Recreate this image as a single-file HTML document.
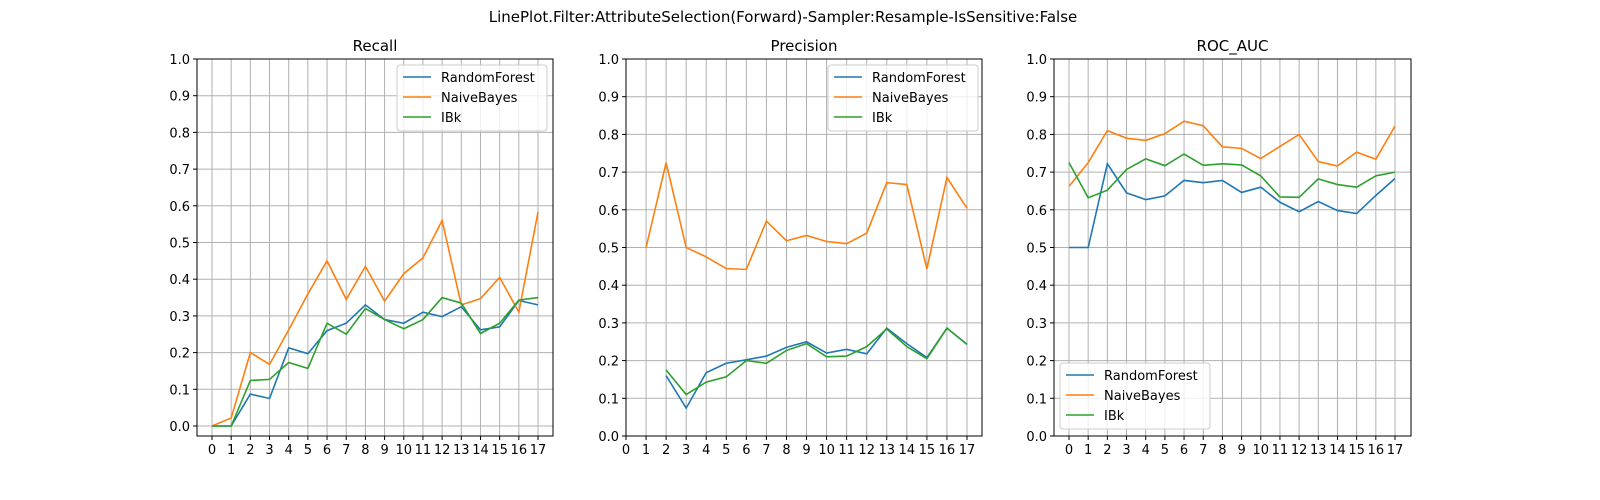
<!DOCTYPE html>
<html><head><meta charset="utf-8"><style>
html,body{margin:0;padding:0;background:#fff;overflow:hidden;width:1600px;height:500px;font-family:"Liberation Sans","DejaVu Sans",sans-serif}
svg{display:block}
svg text{font-family:"DejaVu Sans","Liberation Sans",sans-serif}
</style></head><body>
<svg id="c" width="1600" height="500" xmlns="http://www.w3.org/2000/svg">
<rect width="1600" height="500" fill="#fff"/>
<text x="783" y="22" text-anchor="middle" font-size="15">LinePlot.Filter:AttributeSelection(Forward)-Sampler:Resample-IsSensitive:False</text>
</svg>
<script>
const categories=[0,1,2,3,4,5,6,7,8,9,10,11,12,13,14,15,16,17];
const yTicks=[0,0.1,0.2,0.3,0.4,0.5,0.6,0.7,0.8,0.9,1.0];
const seriesNames=["RandomForest","NaiveBayes","IBk"];
const recallRF=[0,0,0.087,0.075,0.213,0.197,0.26,0.28,0.33,0.29,0.28,0.31,0.298,0.325,0.262,0.27,0.342,0.33];
const recallNB=[0,0.022,0.2,0.168,0.262,0.36,0.45,0.345,0.435,0.34,0.415,0.458,0.56,0.33,0.347,0.405,0.31,0.583];
const recallIBk=[0,0,0.124,0.127,0.173,0.157,0.28,0.25,0.32,0.29,0.265,0.29,0.35,0.335,0.252,0.28,0.343,0.35];
const precRF=[null,null,0.16,0.074,0.168,0.193,0.202,0.212,0.235,0.25,0.22,0.23,0.218,0.286,0.245,0.208,0.286,0.243];
const precNB=[null,0.5,0.725,0.5,0.475,0.444,0.442,0.57,0.518,0.532,0.516,0.51,0.538,0.672,0.667,0.443,0.686,0.604];
const precIBk=[null,null,0.175,0.11,0.143,0.157,0.2,0.193,0.227,0.245,0.21,0.212,0.237,0.284,0.237,0.205,0.286,0.243];
const rocRF=[0.5,0.5,0.722,0.645,0.627,0.637,0.678,0.672,0.678,0.646,0.66,0.62,0.595,0.622,0.598,0.59,0.638,0.683];
const rocNB=[0.662,0.725,0.81,0.79,0.784,0.802,0.835,0.823,0.767,0.763,0.736,0.768,0.8,0.728,0.716,0.753,0.734,0.822];
const rocIBk=[0.725,0.632,0.652,0.707,0.735,0.717,0.748,0.718,0.722,0.719,0.69,0.634,0.633,0.682,0.667,0.66,0.69,0.7];
const colors=["#1f77b4","#ff7f0e","#2ca02c"];
const NS="http://www.w3.org/2000/svg";
const svg=document.getElementById('c');
function mk(t,a,p){const e=document.createElementNS(NS,t);for(const k in a)e.setAttribute(k,a[k]);(p||svg).appendChild(e);return e;}
const panels=[
 {name:"recall",title:"Recall",L:197,R:553,T:59,B:436,x0:212,x1:538,y0:426,y1:59,data:[recallRF,recallNB,recallIBk],leg:{x:397,y:65}},
 {name:"precision",title:"Precision",L:626,R:982,T:59,B:436,x0:626,x1:967,y0:436,y1:59,data:[precRF,precNB,precIBk],leg:{x:828,y:65}},
 {name:"roc-auc",title:"ROC_AUC",L:1054,R:1411,T:59,B:436,x0:1069,x1:1395,y0:436,y1:59,data:[rocRF,rocNB,rocIBk],leg:{x:1060,y:363}}
];
panels.forEach(p=>{
 const g=mk('g',{});
 
 
 const xs=v=>p.x0+(p.x1-p.x0)*v/17;
 const ys=v=>p.y0+(p.y1-p.y0)*v;
 categories.forEach(c=>{
  mk('line',{x1:xs(c),x2:xs(c),y1:p.T,y2:p.B,stroke:'#b0b0b0','stroke-width':1},g);
  mk('line',{x1:xs(c),x2:xs(c),y1:p.B,y2:p.B+4,stroke:'#000'},g);
  const t=mk('text',{x:xs(c),y:p.B+18,'text-anchor':'middle','font-size':13},g);t.textContent=c;
  
  
 });
 yTicks.forEach(v=>{
  mk('line',{x1:p.L,x2:p.R,y1:ys(v),y2:ys(v),stroke:'#b0b0b0','stroke-width':1},g);
  mk('line',{x1:p.L-4,x2:p.L,y1:ys(v),y2:ys(v),stroke:'#000'},g);
  const t=mk('text',{x:p.L-7,y:ys(v)+5,'text-anchor':'end','font-size':13},g);t.textContent=v.toFixed(1);
  
  
 });
 p.data.forEach((arr,i)=>{
  let d='';arr.forEach((v,k)=>{if(v==null)return;d+=(d?'L':'M')+xs(categories[k])+','+ys(v);});
  const l=mk('path',{d:d,fill:'none',stroke:colors[i],'stroke-width':1.6},g);
  
  
 });
 mk('rect',{x:p.L,y:p.T,width:p.R-p.L,height:p.B-p.T,fill:'none',stroke:'#000','stroke-width':1},g);
 const tt=mk('text',{x:(p.L+p.R)/2,y:p.T-8,'text-anchor':'middle','font-size':15},g);tt.textContent=p.title;
 
 
 const lg=mk('g',{},g);
 
 
 mk('rect',{x:p.leg.x,y:p.leg.y,width:150,height:66,rx:3,fill:'#fff','fill-opacity':0.8,stroke:'#ccc'},lg);
 seriesNames.forEach((n,i)=>{
  const yy=p.leg.y+12+i*20;
  mk('line',{x1:p.leg.x+6,x2:p.leg.x+34,y1:yy,y2:yy,stroke:colors[i],'stroke-width':1.6},lg);
  const t=mk('text',{x:p.leg.x+44,y:yy+5,'font-size':13},lg);t.textContent=n;
  
  
 });
});
</script>
</body></html>
